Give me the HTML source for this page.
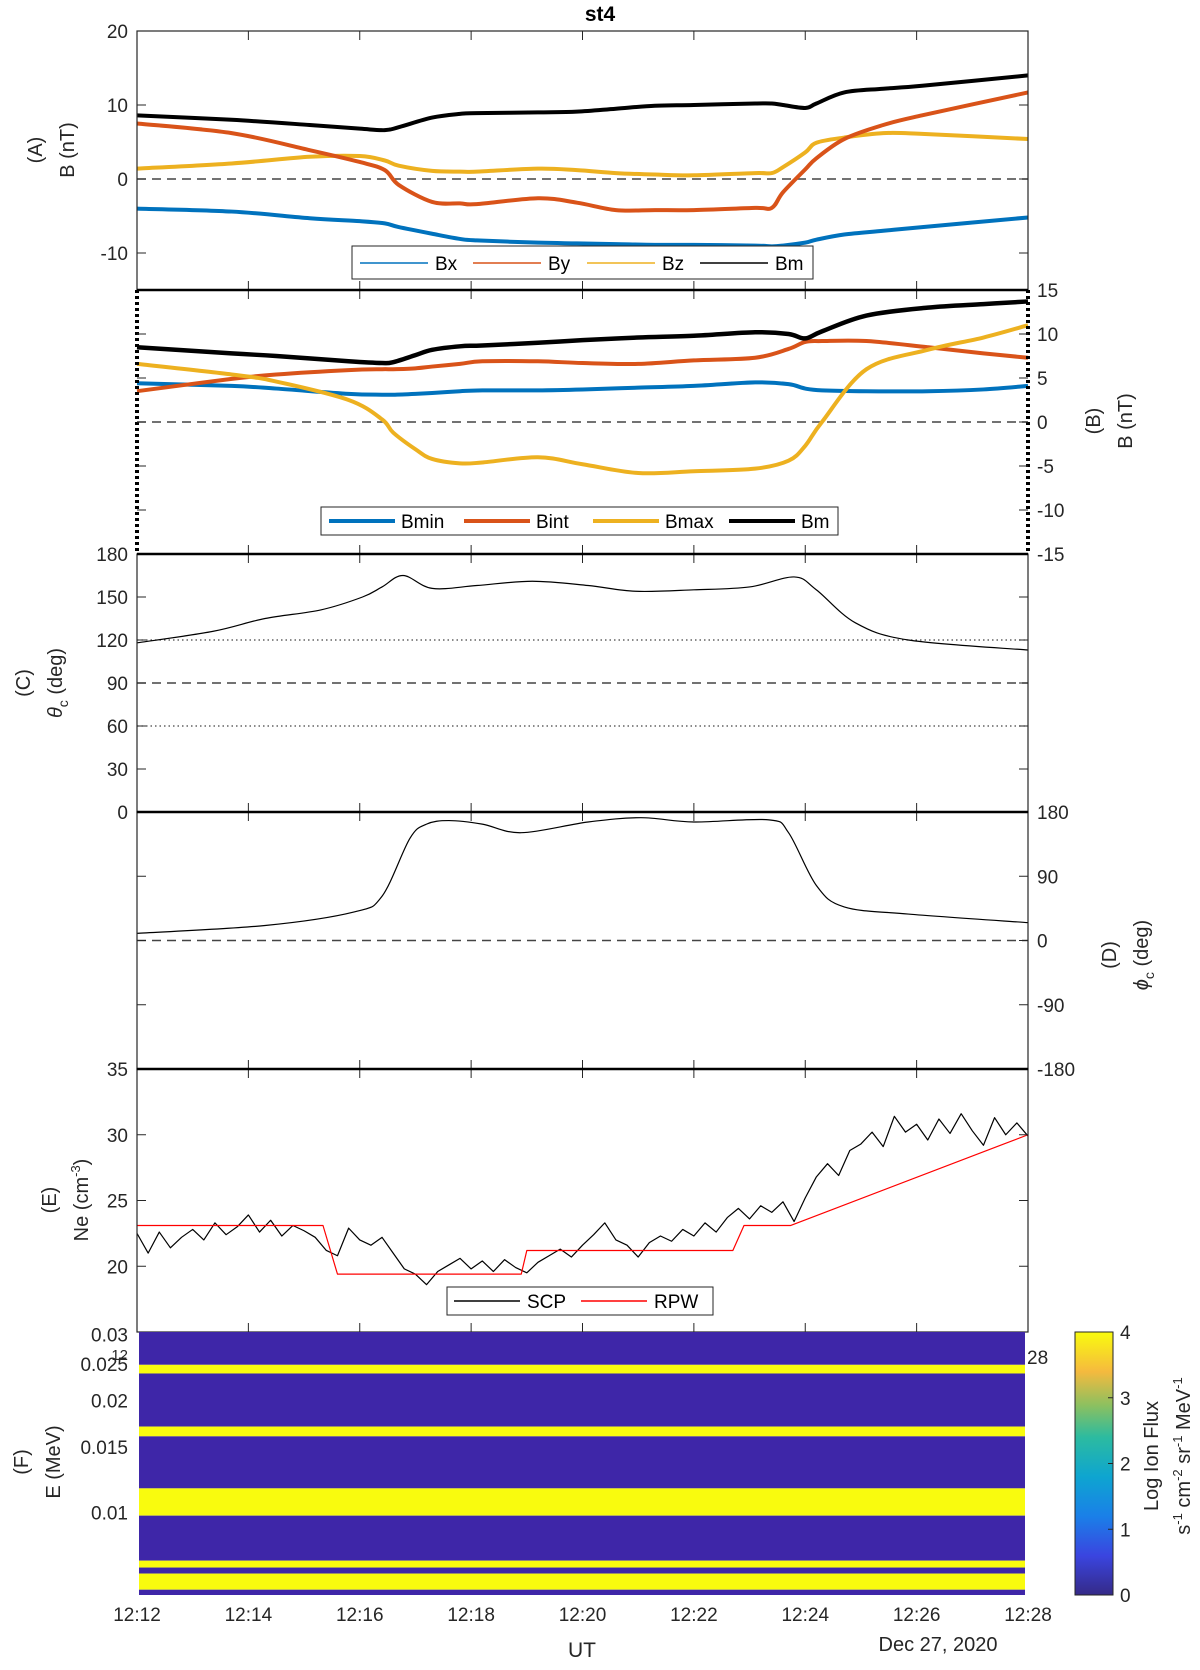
<!DOCTYPE html>
<html><head><meta charset="utf-8"><style>
html,body{margin:0;padding:0;background:#fff}
svg{display:block;font-family:"Liberation Sans",sans-serif}
</style></head><body>
<svg id="fig" width="1200" height="1670" viewBox="0 0 1200 1670" xmlns="http://www.w3.org/2000/svg"></svg>
<script>
// ---- data (minutes after 12:12) ----
const tA=[0,1.7,3.1,4.0,4.45,4.7,5.3,5.8,6.1,7.2,7.9,8.6,9.3,10,11.1,11.4,11.6,12.0,12.2,12.7,13.4,14.1,16];
const bmA=[8.6,8.0,7.3,6.8,6.6,7.0,8.3,8.8,8.9,9.0,9.1,9.5,9.9,10.0,10.2,10.2,10.0,9.6,10.2,11.7,12.2,12.6,14.0];
const byA=[7.5,6.2,3.9,2.3,1.2,-0.8,-3.1,-3.3,-3.4,-2.6,-3.2,-4.2,-4.2,-4.2,-3.9,-3.9,-1.8,1.3,2.8,5.4,7.3,8.6,11.7];
const bzA=[1.4,2.1,3.0,3.1,2.5,1.8,1.1,1.0,1.0,1.4,1.2,0.8,0.6,0.5,0.8,0.8,1.6,3.6,4.9,5.6,6.2,6.1,5.4];
const bxA=[-4.0,-4.4,-5.3,-5.7,-6.0,-6.5,-7.4,-8.1,-8.3,-8.6,-8.7,-8.8,-8.9,-8.9,-9.0,-9.1,-9.0,-8.6,-8.2,-7.5,-7.0,-6.5,-5.2];
const tB=[0,1.7,2.5,3.8,4.4,4.6,5.0,5.3,5.8,6.2,7.2,8.0,9.0,10.0,11.1,11.7,12.0,12.3,13.1,14.2,15.2,16];
const bmB=[8.5,7.8,7.5,6.9,6.7,6.8,7.6,8.2,8.6,8.7,9.0,9.3,9.6,9.8,10.2,10.0,9.5,10.3,12.1,13.0,13.4,13.7];
const bintB=[3.5,4.9,5.4,5.9,6.0,6.0,6.1,6.3,6.6,6.9,6.9,6.7,6.6,7.0,7.3,8.3,9.1,9.2,9.2,8.5,7.8,7.3];
const bminB=[4.4,4.1,3.8,3.2,3.1,3.1,3.2,3.3,3.5,3.6,3.6,3.7,3.9,4.1,4.5,4.3,3.8,3.6,3.5,3.5,3.7,4.1];
const bmaxB=[6.6,5.4,4.6,2.5,0.3,-1.2,-3.1,-4.2,-4.7,-4.6,-4.0,-4.8,-5.8,-5.6,-5.3,-4.4,-2.7,0.0,6.0,8.2,9.6,11.0];
const tC=[0,1.36,2.3,3.3,4.05,4.4,4.78,5.3,6.1,7.1,8.1,8.95,10,11,11.8,12.2,12.9,13.85,16];
const thetaC=[118,126,135,141,150,157,165,156,158,161,158,154,155,157,164,155,132,120,113];
const tD=[0,2.3,3.9,4.4,4.9,5.2,5.6,6.2,6.9,8.1,9.05,10,11.35,11.7,12.2,12.7,13.85,16];
const phiD=[10,21,40,62,143,163,168,163,151,166,172,166,169,151,77,47,37,25];
const scpE=[22.5,21.0,22.6,21.4,22.2,22.8,22.0,23.3,22.4,23.0,23.9,22.6,23.5,22.3,23.1,22.7,22.2,21.2,20.8,22.9,22.0,21.6,22.2,21.0,19.8,19.4,18.6,19.6,20.1,20.6,19.8,20.4,19.6,20.5,19.9,19.5,20.3,20.8,21.3,20.7,21.6,22.4,23.3,22.0,21.6,20.7,21.8,22.3,21.9,22.8,22.3,23.3,22.6,23.7,24.4,23.6,24.6,24.1,24.9,23.4,25.2,26.8,27.8,26.9,28.8,29.3,30.2,29.1,31.4,30.2,30.8,29.6,31.2,30.1,31.6,30.3,29.2,31.3,30.0,30.9,29.9];
const scpStep=0.2;
const rpwT=[0,3.34,3.6,6.9,7.0,10.7,10.9,11.74,16];
const rpwV=[23.1,23.1,19.4,19.4,21.2,21.2,23.1,23.1,30];
const specEdges=[0.0305,0.0249,0.0236,0.0170,0.0160,0.0116,0.0098,0.00742,0.00711,0.00685,0.00620,0.0060];
const specVals=[0,4,0,4,0,4,0,4,0,4,0];
const timeTicks=["12:12","12:14","12:16","12:18","12:20","12:22","12:24","12:26","12:28"];

// ---- layout ----
const svg=document.getElementById('fig');const NS='http://www.w3.org/2000/svg';
const L=137,R=1028;
const X=t=>L+t*(R-L)/16;
function el(tag,attrs,parent){const e=document.createElementNS(NS,tag);for(const k in attrs)e.setAttribute(k,attrs[k]);(parent||svg).appendChild(e);return e;}
function txt(s,x,y,o,parent){const e=el('text',Object.assign({x:x,y:y,'font-size':19,fill:'#262626'},o||{}),parent);e.textContent=s;return e;}
function lin(lo,hi,top,bot){return v=>bot-(v-lo)/(hi-lo)*(bot-top);}
function smooth(pts){let d='M'+pts[0][0]+','+pts[0][1];for(let i=0;i<pts.length-1;i++){const p0=pts[i-1]||pts[i],p1=pts[i],p2=pts[i+1],p3=pts[i+2]||p2;const c1x=p1[0]+(p2[0]-p0[0])/6,c1y=p1[1]+(p2[1]-p0[1])/6,c2x=p2[0]-(p3[0]-p1[0])/6,c2y=p2[1]-(p3[1]-p1[1])/6;d+=`C${c1x},${c1y},${c2x},${c2y},${p2[0]},${p2[1]}`;}return d;}
function curve(ts,vs,Y,color,w,name,smoothIt){const pts=ts.map((t,i)=>[X(t),Y(vs[i])]);const p=el('path',{d:smoothIt?smooth(pts):'M'+pts.map(p=>p.join(',')).join('L'),fill:'none',stroke:color,'stroke-width':w,'stroke-linejoin':'round'});return p;}
function hline(y,dash,name,w){const l=el('line',{x1:L,x2:R,y1:y,y2:y,stroke:'#444','stroke-width':w||1.5,'stroke-dasharray':dash});}
function xticks(top,bot){for(let i=1;i<8;i++){const x=X(i*2);el('line',{x1:x,x2:x,y1:top,y2:top+9,stroke:'#262626','stroke-width':1});el('line',{x1:x,x2:x,y1:bot,y2:bot-9,stroke:'#262626','stroke-width':1});}}
function yticks(vals,Y,side,labels){vals.forEach((v,i)=>{const y=Y(v);el('line',{x1:L,x2:L+9,y1:y,y2:y,stroke:'#262626'});el('line',{x1:R,x2:R-9,y1:y,y2:y,stroke:'#262626'});if(side==='l')txt(labels[i],128,y+7,{'text-anchor':'end'});else txt(labels[i],1037,y+7,{});});}
function vlabel(lines,x,cy,name){const g=el('g',{transform:`translate(${x},${cy}) rotate(-90)`});lines.forEach((s,i)=>{const t=txt('',0,i*32,{'text-anchor':'middle','font-size':20},g);t.innerHTML=s;});}

// title
const ti=txt('st4',600,21,{'text-anchor':'middle','font-weight':'bold','font-size':21,fill:'#000'});

// ---- Panel A ----
const YA=lin(-15,20,31,290);
hline(YA(0),'9,6','zero-line-a');
curve(tA,bxA,YA,'#0072bd',1.2,'bx-thin',true);curve(tA,byA,YA,'#d95319',1.2,'by-thin',true);curve(tA,bzA,YA,'#edb120',1.2,'bz-thin',true);curve(tA,bmA,YA,'#000',1.2,'bm-thin',true);
curve(tA,bxA,YA,'#0072bd',4,'bx-smooth',true);curve(tA,bzA,YA,'#edb120',4,'bz-smooth',true);curve(tA,byA,YA,'#d95319',4,'by-smooth',true);curve(tA,bmA,YA,'#000',4,'bm-smooth',true);
el('rect',{x:L,y:31,width:R-L,height:259,fill:'none',stroke:'#262626','stroke-width':1.2});
xticks(31,290);yticks([20,10,0,-10],YA,'l',['20','10','0','-10']);
vlabel(['(A)','B (nT)'],42,150,'y-axis-title-a');
const lgA=el('g',{});
el('rect',{x:352,y:246,width:461,height:33,fill:'#fff',stroke:'#262626'},lgA);
[['Bx','#0072bd',360],['By','#d95319',473],['Bz','#edb120',587],['Bm','#000',700]].forEach(e=>{el('line',{x1:e[2],x2:e[2]+68,y1:263,y2:263,stroke:e[1],'stroke-width':1.5},lgA);txt(e[0],e[2]+75,270,{fill:'#000'},lgA);});

// ---- Panel B ----
const YB=lin(-15,15,290,554);
hline(YB(0),'9,6','zero-line-b');
curve(tB,bminB,YB,'#0072bd',4,'bmin-line',true);curve(tB,bintB,YB,'#d95319',4,'bint-line',true);curve(tB,bmaxB,YB,'#edb120',4,'bmax-line',true);curve(tB,bmB,YB,'#000',4.5,'bm-line-b',true);
el('line',{x1:L,x2:L,y1:290,y2:554,stroke:'#000','stroke-width':4,'stroke-dasharray':'3,3'});
el('line',{x1:R,x2:R,y1:290,y2:554,stroke:'#000','stroke-width':4,'stroke-dasharray':'3,3'});
xticks(290,554);yticks([15,10,5,0,-5,-10,-15],YB,'r',['15','10','5','0','-5','-10','-15']);
vlabel(['(B)','B (nT)'],1100,421,'y-axis-title-b');
const lgB=el('g',{});
el('rect',{x:321,y:507,width:517,height:28,fill:'#fff',stroke:'#262626'},lgB);
[['Bmin','#0072bd',329],['Bint','#d95319',464],['Bmax','#edb120',593],['Bm','#000',729]].forEach(e=>{el('line',{x1:e[2],x2:e[2]+66,y1:521,y2:521,stroke:e[1],'stroke-width':4},lgB);txt(e[0],e[2]+72,528,{fill:'#000'},lgB);});

// ---- Panel C ----
const YC=lin(0,180,554,812);
hline(YC(120),'1.5,3','dotted-120',1.2);hline(YC(60),'1.5,3','dotted-60',1.2);hline(YC(90),'9,6','dashed-90');
curve(tC,thetaC,YC,'#000',1.2,'theta-line',true);
el('rect',{x:L,y:554,width:R-L,height:258,fill:'none',stroke:'#262626','stroke-width':1.2});
xticks(554,812);yticks([180,150,120,90,60,30,0],YC,'l',['180','150','120','90','60','30','0']);
vlabel(['(C)','<tspan font-style="italic">θ</tspan><tspan font-size="14" dy="6">c</tspan><tspan dy="-6"> (deg)</tspan>'],30,683,'y-axis-title-c');

// ---- Panel D ----
const YD=lin(-180,180,812,1069);
hline(YD(0),'9,6','zero-line-d');
curve(tD,phiD,YD,'#000',1.2,'phi-line',true);
el('rect',{x:L,y:812,width:R-L,height:257,fill:'none',stroke:'#262626','stroke-width':1.2});
xticks(812,1069);yticks([180,90,0,-90,-180],YD,'r',['180','90','0','-90','-180']);
vlabel(['(D)','<tspan font-style="italic">ϕ</tspan><tspan font-size="14" dy="6">c</tspan><tspan dy="-6"> (deg)</tspan>'],1116,955,'y-axis-title-d');

// ---- Panel E ----
const YE=lin(15,35,1069,1332);
const scpT=scpE.map((v,i)=>i*scpStep);
curve(scpT,scpE,YE,'#000',1.2,'scp-line',false);
curve(rpwT,rpwV,YE,'#ff0000',1.2,'rpw-line',false);
el('rect',{x:L,y:1069,width:R-L,height:263,fill:'none',stroke:'#262626','stroke-width':1.2});
xticks(1069,1332);yticks([35,30,25,20],YE,'l',['35','30','25','20']);
vlabel(['(E)','Ne (cm<tspan font-size="13" dy="-8">-3</tspan><tspan dy="8">)</tspan>'],56,1200,'y-axis-title-e');
const lgE=el('g',{});
el('rect',{x:447,y:1287,width:266,height:28,fill:'#fff',stroke:'#262626'},lgE);
[['SCP','#000',454],['RPW','#ff0000',581]].forEach(e=>{el('line',{x1:e[2],x2:e[2]+66,y1:1301,y2:1301,stroke:e[1],'stroke-width':1.5},lgE);txt(e[0],e[2]+73,1308,{fill:'#000'},lgE);});
// thick panel separators
[290,554,812,1069].forEach(y=>el('line',{x1:L,x2:R,y1:y,y2:y,stroke:'#000','stroke-width':2.5}));

// ---- Panel F spectrogram ----
const FT=1332,FB=1595,FL=139,FR=1025;
const lmin=Math.log10(0.006),lmax=Math.log10(0.0305);
const YF=e=>FB-(Math.log10(e)-lmin)/(lmax-lmin)*(FB-FT);
const cmap=v=>v>=2?'#f9fb0e':'#3e26a8';
for(let i=0;i<specVals.length;i++){const y1=YF(specEdges[i]),y2=YF(specEdges[i+1]);const r=el('rect',{x:FL,y:y1,width:FR-FL,height:y2-y1,fill:cmap(specVals[i])});}
[[0.03,'0.03'],[0.025,'0.025'],[0.02,'0.02'],[0.015,'0.015'],[0.01,'0.01']].forEach(e=>txt(e[1],128,YF(e[0])+7,{'text-anchor':'end'}));
txt('12',128,1360,{'text-anchor':'end','font-size':15});
txt('28',1027,1364,{});
vlabel(['(F)','E (MeV)'],28,1462,'y-axis-title-f');
timeTicks.forEach((s,i)=>{const t=txt(s,X(i*2),1621,{'text-anchor':'middle'});});
const ut=txt('UT',582,1657,{'text-anchor':'middle','font-size':21});
txt('Dec 27, 2020',938,1651,{'text-anchor':'middle','font-size':20});

// colorbar
const defs=el('defs',{});const gr=el('linearGradient',{id:'parula',x1:0,y1:1,x2:0,y2:0},defs);
[['0','#352a87'],['0.15','#3a45e0'],['0.3','#1a80e8'],['0.45','#0ea5d0'],['0.6','#2cbba0'],['0.72','#8bc060'],['0.85','#f5ba3e'],['1','#f9fb0e']].forEach(s=>el('stop',{offset:s[0],'stop-color':s[1]},gr));
const cb=el('rect',{x:1075,y:1332,width:38,height:263,fill:'url(#parula)',stroke:'#262626'});
for(let v=0;v<=4;v++){const y=1595-v*263/4;el('line',{x1:1108,x2:1113,y1:y,y2:y,stroke:'#262626'});txt(String(v),1120,y+7,{});}
vlabel(['Log Ion Flux','s<tspan font-size="13" dy="-8">-1</tspan><tspan dy="8"> cm</tspan><tspan font-size="13" dy="-8">-2</tspan><tspan dy="8"> sr</tspan><tspan font-size="13" dy="-8">-1</tspan><tspan dy="8"> MeV</tspan><tspan font-size="13" dy="-8">-1</tspan>'],1158,1456,'colorbar-title');
</script>
</body></html>
